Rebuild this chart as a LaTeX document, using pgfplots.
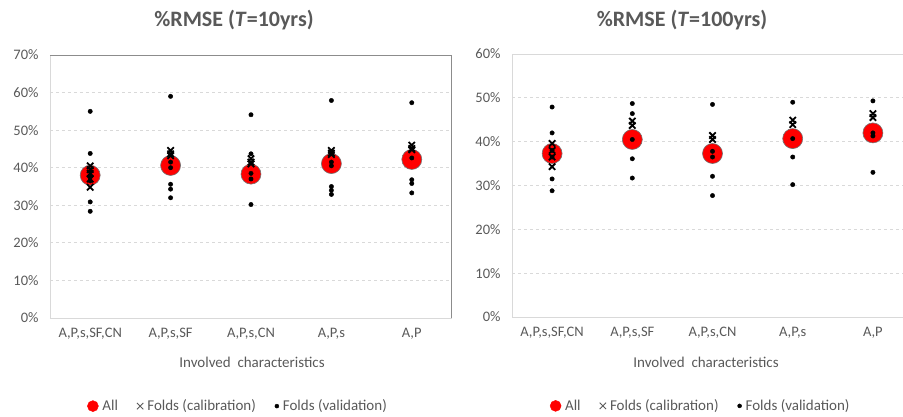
\documentclass[border=0pt]{standalone}
\usepackage{fontspec}
\setmainfont{Carlito}
\usepackage{pgfplots}
\pgfplotsset{compat=1.18}
\definecolor{txt}{HTML}{595959}
\definecolor{gridc}{HTML}{D9D9D9}
\definecolor{framec}{HTML}{8C8C8C}
\definecolor{allred}{HTML}{FF0000}

\pgfplotsset{
  panel/.style={
    scale only axis, height=263pt,
    xmin=-0.5, ymin=0,
    xtick={0,1,2,3,4},
    xticklabels={{A,P,s,SF,CN},{A,P,s,SF},{A,P,s,CN},{A,P,s},{A,P}},
    ytick distance=10,
    /pgf/number format/assume math mode=true,
    yticklabel={\pgfmathprintnumber{\tick}\%},
    ticklabel style={font=\fontsize{14.5}{17}\selectfont, text=txt},
    yticklabel style={xshift=-8pt},
    xticklabel style={yshift=-7pt},
    major tick length=0pt,
    axis line style={draw=none},
    ymajorgrids,
    major grid style={draw=gridc, line width=0.8pt, dash pattern=on 3pt off 3pt},
    legend columns=3,
    legend style={draw=none, fill=none, font=\fontsize{15}{18}\selectfont, text=txt,
      /tikz/every odd column/.append style={column sep=2pt},
      /tikz/every even column/.append style={column sep=17pt},
      inner sep=0pt, cells={anchor=west}},
    legend image code/.code={\draw[##1] plot coordinates {(0.12cm,0cm)};},
  },
  allp/.style={only marks, mark=*, mark size=10pt, mark options={fill=allred, draw=black!55, line width=0.6pt}},
  calp/.style={only marks, mark=x, mark size=4.5pt, mark options={draw=black, line width=1.8pt}},
  valp/.style={only marks, mark=*, mark size=2.2pt, mark options={fill=black, draw=black}},
}

\begin{document}
\begin{tikzpicture}
\useasboundingbox (0pt,0pt) rectangle (903pt,416pt);

% ---------------- left panel ----------------
\begin{axis}[panel, at={(50pt,98pt)}, anchor=south west, width=402pt,
  xmax=4.5, ymax=70,
  legend style={at={(0.468,-0.335)}, anchor=center}]
\addlegendimage{allp, mark size=5.5pt, mark options={fill=allred, draw=allred}}
\addlegendentry{All}
\addlegendimage{calp, mark size=4.5pt, mark options={draw=txt, line width=0.9pt}}
\addlegendentry{Folds (calibration)}
\addlegendimage{valp, mark size=2pt}
\addlegendentry{Folds (validation)}
\addplot[allp, forget plot] coordinates {(0,38.0) (1,40.6) (2,38.3) (3,41.1) (4,42.2)};
\addplot[calp, forget plot] coordinates {
 (0,40.5) (0,39.5) (0,38.5) (0,37.0) (0,34.8)
 (1,44.6) (1,43.7) (1,43.2)
 (2,42.4) (2,41.5) (2,41.0)
 (3,44.6) (3,43.9) (3,43.5)
 (4,46.0) (4,45.1) (4,44.8)};
\addplot[valp, forget plot] coordinates {
 (0,55.0) (0,43.8) (0,39.0) (0,37.5) (0,36.5) (0,30.9) (0,28.4)
 (1,59.0) (1,41.5) (1,40.0) (1,35.6) (1,34.3) (1,32.0)
 (2,54.1) (2,43.7) (2,38.5) (2,37.0) (2,30.2)
 (3,57.9) (3,41.5) (3,40.5) (3,35.0) (3,34.0) (3,32.9)
 (4,57.3) (4,42.6) (4,36.8) (4,35.8) (4,33.3)};
\draw[gridc, line width=0.9pt] (rel axis cs:0,1) -- (rel axis cs:0,0) -- (rel axis cs:1,0);
\draw[framec, line width=1.1pt] (rel axis cs:0,1) -- (rel axis cs:1,1) -- (rel axis cs:1,0);
\end{axis}

% ---------------- right panel ----------------
\begin{axis}[panel, at={(512pt,99pt)}, anchor=south west, width=391pt,
  xmax=4.375, ymax=60,
  legend style={at={(0.483,-0.338)}, anchor=center}]
\addlegendimage{allp, mark size=5.5pt, mark options={fill=allred, draw=allred}}
\addlegendentry{All}
\addlegendimage{calp, mark size=4.5pt, mark options={draw=txt, line width=0.9pt}}
\addlegendentry{Folds (calibration)}
\addlegendimage{valp, mark size=2pt}
\addlegendentry{Folds (validation)}
\addplot[allp, forget plot] coordinates {(0,37.3) (1,40.5) (2,37.3) (3,40.7) (4,42.0)};
\addplot[calp, forget plot] coordinates {
 (0,39.6) (0,38.0) (0,36.5) (0,34.3)
 (1,44.7) (1,43.7)
 (2,41.4) (2,40.5)
 (3,44.9) (3,43.9)
 (4,46.4) (4,45.5)};
\addplot[valp, forget plot] coordinates {
 (0,47.9) (0,42.0) (0,38.0) (0,36.5) (0,31.5) (0,28.8)
 (1,48.7) (1,46.4) (1,40.5) (1,36.1) (1,31.7)
 (2,48.5) (2,37.8) (2,36.5) (2,32.1) (2,27.7)
 (3,49.0) (3,40.7) (3,36.5) (3,30.2)
 (4,49.3) (4,42.0) (4,41.3) (4,33.0)};
\draw[gridc, line width=0.9pt] (rel axis cs:1,0) -- (rel axis cs:0,0) -- (rel axis cs:0,1) -- (rel axis cs:1,1);
\end{axis}

% titles and axis labels
\node[text=txt, font=\fontsize{22}{26}\selectfont\bfseries] at (234pt,396pt) {\%RMSE (\textit{T}=10yrs)};
\node[text=txt, font=\fontsize{22}{26}\selectfont\bfseries] at (682pt,396pt) {\%RMSE (\textit{T}=100yrs)};
\node[text=txt, font=\fontsize{15}{18}\selectfont] at (252pt,54pt) {Involved\ \ characteristics};
\node[text=txt, font=\fontsize{15}{18}\selectfont] at (706pt,54pt) {Involved\ \ characteristics};
\end{tikzpicture}
\end{document}
